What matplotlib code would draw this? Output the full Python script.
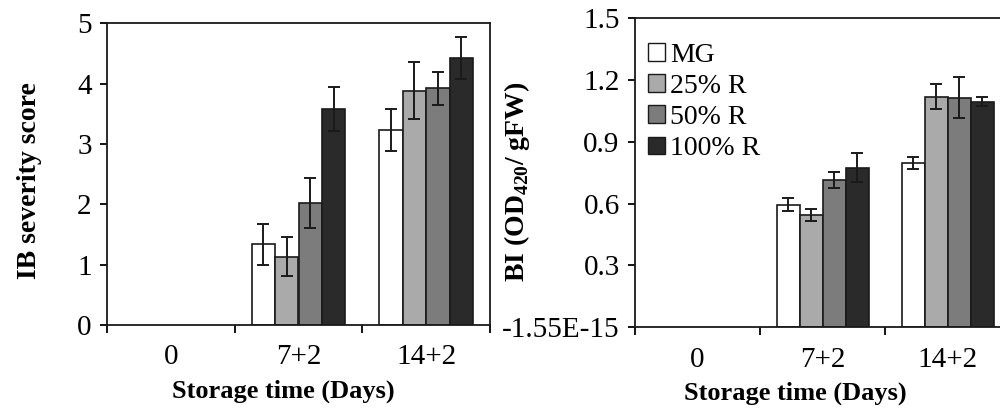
import numpy as np
import matplotlib
matplotlib.use("Agg")
import matplotlib.pyplot as plt
from matplotlib.patches import Patch

plt.rcParams["font.family"] = ["Liberation Serif", "DejaVu Serif"]
plt.rcParams["mathtext.fontset"] = "custom"
plt.rcParams["mathtext.rm"] = "Liberation Serif"
plt.rcParams["mathtext.bf"] = "Liberation Serif:bold"

categories = ["0", "7+2", "14+2"]
series = ["MG", "25% R", "50% R", "100% R"]
colors = ["#ffffff", "#aaaaaa", "#7c7c7c", "#2a2a2a"]

# IB severity score (0 days has no bars)
ib_mean = {
    "MG": [0, 1.34, 3.23],
    "25% R": [0, 1.13, 3.88],
    "50% R": [0, 2.02, 3.92],
    "100% R": [0, 3.58, 4.42],
}
ib_err = {
    "MG": [0, 0.34, 0.35],
    "25% R": [0, 0.32, 0.47],
    "50% R": [0, 0.42, 0.27],
    "100% R": [0, 0.37, 0.35],
}

# browning index BI
bi_mean = {
    "MG": [0, 0.595, 0.798],
    "25% R": [0, 0.543, 1.119],
    "50% R": [0, 0.713, 1.114],
    "100% R": [0, 0.773, 1.095],
}
bi_err = {
    "MG": [0, 0.03, 0.03],
    "25% R": [0, 0.03, 0.06],
    "50% R": [0, 0.04, 0.10],
    "100% R": [0, 0.07, 0.02],
}


def draw_bars(ax, means, errs):
    x = np.arange(len(categories))
    width = 0.184
    for i, s in enumerate(series):
        pos = x + (i - 1.5) * width
        vals = np.array(means[s])
        err = np.array(errs[s])
        show = vals > 0
        ax.bar(pos[show], vals[show], width, color=colors[i],
               edgecolor="#1a1a1a", linewidth=1.2, zorder=2)
        ax.errorbar(pos[show], vals[show], yerr=err[show], fmt="none",
                    ecolor="#1a1a1a", elinewidth=1.4, capsize=4,
                    capthick=1.4, zorder=3)
    ax.set_xlim(-0.5, len(categories) - 0.5)
    ax.set_xticks(x)
    ax.set_xticklabels(categories)
    ax.set_xticks(np.arange(len(categories) + 1) - 0.5, minor=True)
    ax.tick_params(axis="x", which="major", length=0, pad=14, labelsize=21)
    ax.tick_params(axis="x", which="minor", length=6, width=1.3,
                   direction="out")
    ax.tick_params(axis="y", length=5, width=1.3, direction="out",
                   labelsize=21, pad=6)
    for sp in ax.spines.values():
        sp.set_linewidth(1.3)
        sp.set_color("#1a1a1a")
    ax.set_xlabel("Storage time (Days)", fontsize=19, fontweight="bold")


fig = plt.figure(figsize=(10, 4.13), dpi=100)

ax1 = fig.add_axes([0.107, 0.213, 0.383, 0.731])
draw_bars(ax1, ib_mean, ib_err)
ax1.set_ylim(0, 5)
ax1.set_yticks([0, 1, 2, 3, 4, 5])
ax1.set_ylabel("IB severity score", fontsize=20, fontweight="bold")
ax1.yaxis.set_label_coords(-0.17, 0.48)
ax1.xaxis.set_label_coords(0.46, -0.18)

ax2 = fig.add_axes([0.635, 0.208, 0.375, 0.748])
draw_bars(ax2, bi_mean, bi_err)
ax2.set_ylim(0, 1.5)
ax2.set_yticks([0, 0.3, 0.6, 0.9, 1.2, 1.5])
ax2.set_yticklabels(["-1.55E-15", "0.3", "0.6", "0.9", "1.2", "1.5"])
ax2.set_ylabel(r"BI (OD$_{\mathbf{420}}$/ gFW)", fontsize=20,
               fontweight="bold")
ax2.yaxis.set_label_coords(-0.275, 0.47)
ax2.xaxis.set_label_coords(0.427, -0.175)

handles = [Patch(facecolor=c, edgecolor="#1a1a1a", linewidth=1)
           for c in colors]
ax2.legend(handles, series, loc="upper left", bbox_to_anchor=(0.035, 0.92),
           frameon=False, fontsize=20, borderpad=0, borderaxespad=0,
           handlelength=0.6, handleheight=0.6, handletextpad=0.2,
           labelspacing=0.22)

fig.savefig("out.png", dpi=100)
